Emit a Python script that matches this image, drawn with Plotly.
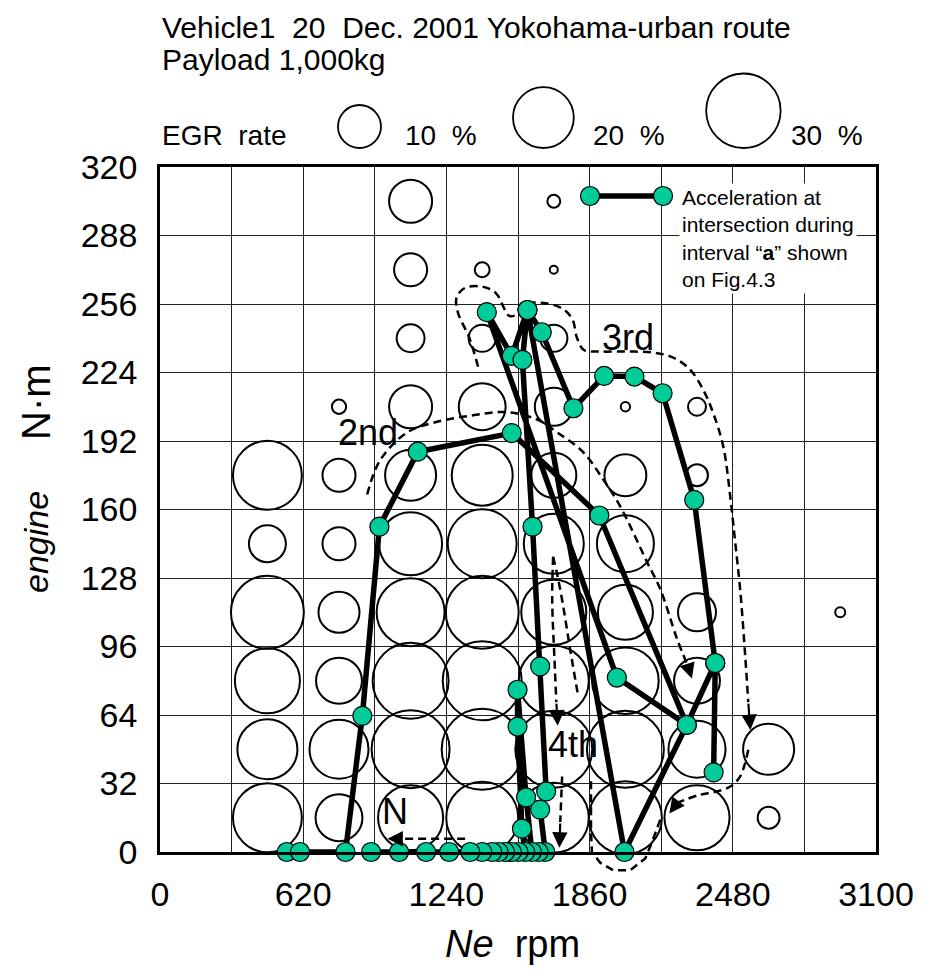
import math
import plotly.graph_objects as go

# ---------------------------------------------------------------------------
# EGR rate map: cell centres (engine speed, torque) and measured EGR rate [%]
# ---------------------------------------------------------------------------
bubble_rpm = [465, 465, 465, 465, 465, 465,
              775, 775, 775, 775, 775, 775, 775,
              1085, 1085, 1085, 1085, 1085, 1085, 1085, 1085, 1085, 1085,
              1395, 1395, 1395, 1395, 1395, 1395, 1395, 1395, 1395,
              1705, 1705, 1705, 1705, 1705, 1705, 1705, 1705, 1705, 1705,
              2015, 2015, 2015, 2015, 2015, 2015, 2015,
              2325, 2325, 2325, 2325, 2325, 2325,
              2635, 2635,
              2945]
bubble_torque = [176, 144, 112, 80, 48, 16,
                 208, 176, 144, 112, 80, 48, 16,
                 304, 272, 240, 208, 176, 144, 112, 80, 48, 16,
                 272, 240, 208, 176, 144, 112, 80, 48, 16,
                 304, 272, 240, 208, 176, 144, 112, 80, 48, 16,
                 208, 176, 144, 112, 80, 48, 16,
                 208, 176, 112, 80, 48, 16,
                 48, 16,
                 112]
egr_rate = [25.7, 7.4, 28.8, 22.9, 19.5, 25.7,
            1.1, 5.9, 5.9, 9.1, 11.4, 18.8, 11.9,
            10.0, 5.9, 4.2, 10.0, 14.1, 21.5, 25.0, 31.2, 32.9, 22.9,
            1.2, 4.0, 11.9, 20.1, 25.7, 28.8, 33.7, 35.5, 28.0,
            0.9, 0.35, 4.0, 7.8, 11.0, 19.5, 22.9, 26.5, 32.0, 26.5,
            0.47, 9.5, 17.6, 16.4, 24.0, 32.0, 28.8,
            1.75, 2.6, 7.8, 11.4, 17.6, 22.9,
            14.1, 2.6,
            0.54]

# Reference EGR rates of the size key
egr_key = [10, 20, 30]

# ---------------------------------------------------------------------------
# Operating points recorded during the intersection acceleration (time order)
# ---------------------------------------------------------------------------
accel_rpm = [549, 606, 803, 876, 950, 1116, 1523, 1902, 2281, 2011,
             1591, 1653, 1790, 1923, 2054, 2176, 2313, 2404, 2397, 2404,
             2281, 1978, 1415, 1523, 1591, 1569, 1613, 1646, 1672, 1646,
             1668, 1639, 1610, 1585, 1548, 1548, 1567, 1581, 1552, 1523,
             1494, 1466, 1438, 1395, 1343, 1252, 1152, 1035, 914]
accel_torque = [0, 0, 0, 63.6, 152, 187, 195.7, 157.2, 59.4, 0,
                253.2, 242.8, 207.3, 222.4, 222.1, 214.3, 164.5, 88.3, 37.2, 88.3,
                59.4, 81.5, 252.2, 231.8, 253.2, 229.9, 152, 86.7, 28.3, 19.8,
                0, 0, 0, 25.5, 75.8, 58.6, 10.9, 0, 0, 0,
                0, 0, 0, 0, 0, 0, 0, 0, 0]

# ---------------------------------------------------------------------------
# Hand-drawn gear regions (dashed guides) in rpm / N·m
# ---------------------------------------------------------------------------
gear2_guide = [(897, 167), (953, 183), (1070, 196), (1200, 201), (1356, 204),
               (1503, 205.5), (1633, 202), (1720, 196), (1832, 186.8), (1919, 174),
               (1992, 161.6), (2109, 135.4), (2166, 122.8), (2239, 99.4), (2285, 87)]
gear3_guide = [(1377, 226.7), (1340, 240), (1290, 252), (1284, 259), (1320, 263.5),
               (1400, 264), (1455, 261), (1490, 254), (1512, 250.5), (1545, 251),
               (1590, 256), (1660, 256.5), (1740, 254), (1785, 249), (1806, 240),
               (1835, 234.5), (1906, 233.8), (2023, 233.8), (2135, 233.3), (2222, 231),
               (2296, 225.2), (2352, 215.9), (2395, 205.1), (2439, 189.3), (2469, 166),
               (2490, 145), (2512, 122.5), (2534, 91.2), (2547, 70)]
gear4_left = [(1702, 137.9), (1698, 118), (1708, 90), (1716, 70)]
gear4_right = [(1702, 137.9), (1717, 131), (1741, 117.8), (1776, 94.5), (1811, 72.5)]
gear4_down = [(1741, 35.3), (1733, 14)]
neutral_guide = [(1321, 6.2), (1010, 6.2)]
shift_guide = [(2547, 47.8), (2512, 35.3), (2469, 30.6), (2411, 28.3), (2330, 26.5),
               (2240, 23)]
clutch_loop = [(1866, 33), (1866, 10), (1870, 0), (1906, -5), (1962, -8.5),
               (2036, -8.5), (2101, -3), (2131, 4.8), (2166, 15.1)]

# ---------------------------------------------------------------------------
# Page geometry
# ---------------------------------------------------------------------------
W, H = 930, 972
ML, MT, PW, PH = 160, 167, 716, 685
X_MAX, Y_MAX = 3100, 320
FONT = "Liberation Sans, Arial, sans-serif"
GREEN = "#00CC99"
D10 = 43.0  # bubble diameter [px] of a 10 % EGR rate


def bubble_px(rate):
    return D10 * math.sqrt(rate / 10.0)


def px_x(px):
    return (px - ML) / PW


def px_y(py):
    return (MT + PH - py) / PH


fig = go.Figure()

# EGR bubbles (outline only)
fig.add_trace(go.Scatter(
    x=bubble_rpm, y=bubble_torque, mode="markers",
    marker=dict(size=[bubble_px(r) for r in egr_rate], sizemode="diameter",
                opacity=1, color="rgba(0,0,0,0)",
                line=dict(color="black", width=2)),
    hoverinfo="skip", showlegend=False, cliponaxis=False))

# dashed gear guides
for guide in (gear2_guide, gear3_guide, gear4_left, gear4_right, gear4_down,
              neutral_guide, shift_guide):
    fig.add_trace(go.Scatter(
        x=[p[0] for p in guide], y=[p[1] for p in guide], mode="lines",
        line=dict(color="black", width=2.5, dash="8px,5px", shape="spline"),
        hoverinfo="skip", showlegend=False))

# acceleration trajectory
fig.add_trace(go.Scatter(
    x=accel_rpm, y=accel_torque, mode="lines+markers",
    line=dict(color="black", width=5.5),
    marker=dict(size=19, opacity=1, color=GREEN, line=dict(color="black", width=1.2)),
    hoverinfo="skip", showlegend=False, cliponaxis=False))

shapes = []
# clutch loop around the low-torque point dips below the axis -> paper coords
loop_path = "M " + " L ".join(f"{x / X_MAX:.5f},{y / Y_MAX:.5f}" for x, y in clutch_loop)
shapes.append(dict(type="path", path=loop_path, xref="paper", yref="paper",
                   line=dict(color="black", width=2.5, dash="8px,5px"), layer="above"))

# size key circles above the plot
key_cx = [359.5, 543.4, 743.4]
key_bottom = 148
for cx, rate in zip(key_cx, egr_key):
    d = bubble_px(rate)
    shapes.append(dict(type="circle", xref="paper", yref="paper",
                       xsizemode="pixel", ysizemode="pixel",
                       xanchor=px_x(cx), yanchor=px_y(key_bottom - d / 2),
                       x0=-d / 2, x1=d / 2, y0=-d / 2, y1=d / 2,
                       line=dict(color="black", width=1.8)))

# trajectory key (line with two markers)
key_y = px_y(196)
shapes.append(dict(type="line", xref="paper", yref="paper",
                   x0=px_x(590), x1=px_x(663), y0=key_y, y1=key_y,
                   line=dict(color="black", width=5.5), layer="above"))
for cx in (590, 663):
    shapes.append(dict(type="circle", xref="paper", yref="paper",
                       xsizemode="pixel", ysizemode="pixel",
                       xanchor=px_x(cx), yanchor=key_y,
                       x0=-9.5, x1=9.5, y0=-9.5, y1=9.5,
                       fillcolor=GREEN, line=dict(color="black", width=1.2),
                       layer="above"))

annotations = []


def text(px, py, s, size, xanchor="left", angle=0):
    annotations.append(dict(x=px_x(px), y=px_y(py), xref="paper", yref="paper",
                            text=s, showarrow=False, xanchor=xanchor, yanchor="middle",
                            textangle=angle, font=dict(family=FONT, size=size, color="black")))


NB = "\u00a0"
text(160, 27, f"Vehicle1{NB}{NB}20{NB}{NB}Dec. 2001 Yokohama-urban route", 30)
text(160, 59, "Payload 1,000kg", 30)
text(160, 136, f"EGR{NB}{NB}rate", 28)
text(403, 136, f"10{NB}{NB}%", 28)
text(591, 136, f"20{NB}{NB}%", 28)
text(789, 136, f"30{NB}{NB}%", 28)
text(512, 944, f"<i>Ne</i>{NB}{NB}rpm", 38, xanchor="center")
text(36, 402, "N·m", 40, xanchor="center", angle=-90)
text(36, 542, "<i>engine</i>", 34, xanchor="center", angle=-90)

# legend text for the trajectory
annotations.append(dict(x=px_x(679), y=px_y(183), xref="paper", yref="paper",
                        xanchor="left", yanchor="top", align="left", showarrow=False,
                        bgcolor="white", borderpad=2,
                        text="Acceleration at<br>intersection during<br>"
                             "interval \u201c<b>a</b>\u201d shown<br>on Fig.4.3",
                        font=dict(family=FONT, size=21, color="black")))

# gear labels (data coordinates)
for lx, ly, lab in [(901, 196, "2nd"), (2027, 240.5, "3rd"),
                    (1789, 50.2, "4th"), (1018, 18.8, "N")]:
    annotations.append(dict(x=lx, y=ly, xref="x", yref="y", text=lab, showarrow=False,
                            font=dict(family=FONT, size=36, color="black")))

# arrow heads at the ends of the dashed guides
for (x0, y0), (x1, y1) in [((2285, 87), (2303, 81)),
                           ((2547, 70), (2556, 57)),
                           ((1716, 70), (1722, 59)),
                           ((1733, 14), (1729, 2)),
                           ((1010, 6.2), (985, 6.2)),
                           ((2240, 23), (2205, 18))]:
    annotations.append(dict(x=x1, y=y1, ax=x0, ay=y0, xref="x", yref="y",
                            axref="x", ayref="y", text="", showarrow=True,
                            arrowhead=2, arrowsize=1.4, arrowwidth=2.2,
                            arrowcolor="black", standoff=0, startstandoff=0))

fig.update_layout(
    width=W, height=H,
    margin=dict(l=ML, r=W - ML - PW, t=MT, b=H - MT - PH, pad=0),
    paper_bgcolor="white", plot_bgcolor="white",
    font=dict(family=FONT, color="black"),
    shapes=shapes, annotations=annotations,
    showlegend=False,
)
fig.update_xaxes(range=[0, X_MAX], dtick=620, tick0=0, showgrid=True,
                 gridcolor="#222", gridwidth=1,
                 minor=dict(dtick=310, showgrid=True, gridcolor="#222", gridwidth=1),
                 showline=True, linecolor="black", linewidth=2.5, mirror=True,
                 ticks="", ticklabelstandoff=10, zeroline=False,
                 tickfont=dict(family=FONT, size=34, color="black"))
fig.update_yaxes(range=[0, Y_MAX], dtick=32, tick0=0, showgrid=True,
                 gridcolor="#222", gridwidth=1,
                 showline=True, linecolor="black", linewidth=2.5, mirror=True,
                 ticks="", ticklabelstandoff=13, zeroline=False,
                 tickfont=dict(family=FONT, size=34, color="black"))

fig.write_html("out.html")
